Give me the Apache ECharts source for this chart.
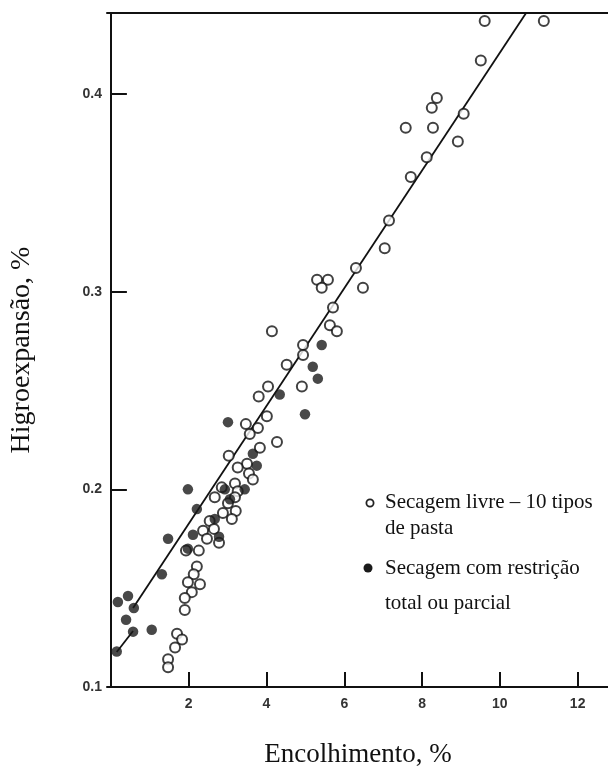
<!DOCTYPE html>
<html>
<head>
<meta charset="utf-8">
<script src="https://cdn.jsdelivr.net/npm/echarts@6/dist/echarts.min.js"></script>
<style>
  html, body { margin: 0; padding: 0; background: #fff; }
  #chart { width: 608px; height: 767px; }
</style>
</head>
<body>
<div id="chart"></div>
<script>
// Shrinkage (Encolhimento, %) vs moisture expansion (Higroexpansão, %)

// free drying, 10 body types: [shrinkage %, expansion %]
const secagemLivre = [
  [9.61, 0.437], [11.13, 0.437], [9.51, 0.417], [8.38, 0.398], [8.25, 0.393],
  [9.07, 0.390], [7.58, 0.383], [8.28, 0.383], [8.92, 0.376], [8.12, 0.368],
  [7.71, 0.358], [7.15, 0.336], [7.04, 0.322], [6.30, 0.312], [6.48, 0.302],
  [5.30, 0.306], [5.58, 0.306], [5.42, 0.302], [5.71, 0.292], [5.63, 0.283],
  [5.81, 0.280], [4.94, 0.273], [4.94, 0.268], [4.14, 0.280], [4.52, 0.263],
  [4.91, 0.252], [4.04, 0.252], [3.80, 0.247], [4.01, 0.237], [3.47, 0.233],
  [3.78, 0.231], [3.57, 0.228], [4.27, 0.224], [3.83, 0.221], [3.03, 0.217],
  [3.50, 0.213], [3.26, 0.211], [3.55, 0.208], [3.65, 0.205], [3.19, 0.203],
  [2.85, 0.201], [3.26, 0.199], [2.67, 0.196], [3.19, 0.196], [3.01, 0.193],
  [3.21, 0.189], [2.88, 0.188], [3.11, 0.185], [2.54, 0.184], [2.65, 0.180],
  [2.37, 0.179], [2.47, 0.175], [2.78, 0.173], [2.26, 0.169], [1.93, 0.169],
  [2.21, 0.161], [2.13, 0.157], [2.29, 0.152], [1.98, 0.153], [2.08, 0.148],
  [1.90, 0.145], [1.90, 0.139], [1.70, 0.127], [1.83, 0.124], [1.65, 0.120],
  [1.47, 0.114], [1.47, 0.110]
];

// drying with total or partial restraint
const secagemRestricao = [
  [5.42, 0.273], [5.19, 0.262], [5.32, 0.256], [4.34, 0.248], [4.99, 0.238],
  [3.01, 0.234], [3.65, 0.218], [3.75, 0.212], [1.98, 0.200], [3.44, 0.200],
  [2.93, 0.200], [3.06, 0.195], [2.21, 0.190], [2.67, 0.185], [2.11, 0.177],
  [2.78, 0.176], [1.47, 0.175], [1.98, 0.170], [1.31, 0.157], [0.18, 0.143],
  [0.44, 0.146], [0.59, 0.140], [0.39, 0.134], [0.57, 0.128], [1.05, 0.129],
  [0.15, 0.118]
];

// fitted trend, drawn as a short lower piece and the main line
const tendenciaInicio = [[0.15, 0.1177], [0.57, 0.1283]];
const tendenciaPrincipal = [[0.57, 0.1400], [10.67, 0.4409]];

const xTicks = [2, 4, 6, 8, 10, 12];
const yTicks = [0.1, 0.2, 0.3, 0.4];

const xTitle = 'Encolhimento, %';
const yTitle = 'Higroexpansão, %';
const legendLivre = ['Secagem livre – 10 tipos', 'de pasta'];
const legendRestricao = ['Secagem com restrição', 'total ou parcial'];

const chart = echarts.init(document.getElementById('chart'), null, { renderer: 'canvas' });

const tickFont = {
  fontFamily: 'Liberation Sans, Arial, sans-serif',
  fontSize: 14,
  fontWeight: 'bold',
  color: '#333'
};
const serif = 'Liberation Serif, Times New Roman, serif';

chart.setOption({
  backgroundColor: '#ffffff',
  animation: false,
  grid: { left: 107, right: 0, top: 13, bottom: 80 },
  xAxis: [
    {
      type: 'value',
      min: -0.1,
      max: 12.78,
      axisLine: { show: true, lineStyle: { color: '#111', width: 2 } },
      axisTick: { show: true, inside: true, length: 15, customValues: xTicks,
                  lineStyle: { color: '#111', width: 2 } },
      axisLabel: { customValues: xTicks, margin: 10, ...tickFont },
      splitLine: { show: false }
    },
    {
      type: 'value',
      position: 'top',
      min: -0.1,
      max: 12.78,
      axisLine: { show: true, lineStyle: { color: '#111', width: 2 } },
      axisTick: { show: false },
      axisLabel: { show: false },
      splitLine: { show: false }
    }
  ],
  yAxis: {
    type: 'value',
    min: 0.1,
    max: 0.441,
    axisLine: { show: true, lineStyle: { color: '#111', width: 2 } },
    axisTick: { show: true, inside: true, length: 16, customValues: yTicks,
                lineStyle: { color: '#111', width: 2 } },
    axisLabel: { customValues: yTicks, margin: 5, formatter: v => v.toFixed(1), ...tickFont },
    splitLine: { show: false }
  },
  series: [
    {
      type: 'line', data: tendenciaInicio, symbol: 'none', z: 2,
      lineStyle: { color: '#111', width: 1.8 }
    },
    {
      type: 'line', data: tendenciaPrincipal, symbol: 'none', z: 2,
      lineStyle: { color: '#111', width: 1.8 }
    },
    {
      name: 'livre', type: 'scatter', data: secagemLivre, symbol: 'circle', symbolSize: 10, z: 3,
      itemStyle: { color: '#ffffff', borderColor: '#111', borderWidth: 2 }
    },
    {
      name: 'restricao', type: 'scatter', data: secagemRestricao, symbol: 'circle', symbolSize: 10.5, z: 4,
      itemStyle: { color: '#1a1a1a', borderColor: '#1a1a1a', borderWidth: 0 }
    }
  ],
  graphic: [
    {
      type: 'text', x: 358, y: 755,
      style: { text: xTitle, font: '27px ' + serif, fill: '#111',
               textAlign: 'center', textVerticalAlign: 'middle' }
    },
    {
      type: 'text', x: 22, y: 350, rotation: Math.PI / 2,
      style: { text: yTitle, font: '28px ' + serif, fill: '#111',
               textAlign: 'center', textVerticalAlign: 'middle' }
    },
    {
      type: 'circle', shape: { cx: 370, cy: 503, r: 3.6 },
      style: { fill: '#fff', stroke: '#222', lineWidth: 1.8 }
    },
    {
      type: 'text', x: 385, y: 502,
      style: { text: legendLivre[0], font: '21px ' + serif, fill: '#111', textVerticalAlign: 'middle' }
    },
    {
      type: 'text', x: 385, y: 528,
      style: { text: legendLivre[1], font: '21px ' + serif, fill: '#111', textVerticalAlign: 'middle' }
    },
    {
      type: 'circle', shape: { cx: 368, cy: 568, r: 4.5 },
      style: { fill: '#1a1a1a' }
    },
    {
      type: 'text', x: 385, y: 568,
      style: { text: legendRestricao[0], font: '21px ' + serif, fill: '#111', textVerticalAlign: 'middle' }
    },
    {
      type: 'text', x: 385, y: 603,
      style: { text: legendRestricao[1], font: '21px ' + serif, fill: '#111', textVerticalAlign: 'middle' }
    }
  ]
});
</script>
</body>
</html>
